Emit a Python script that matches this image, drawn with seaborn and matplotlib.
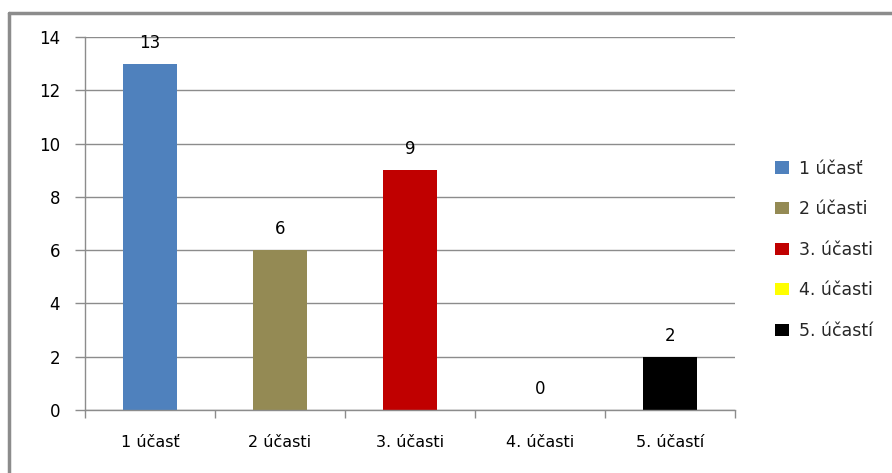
import matplotlib
matplotlib.use("Agg")
import matplotlib.pyplot as plt
from matplotlib.lines import Line2D
from matplotlib.patches import Patch
import seaborn as sns
import pandas as pd

categories = ["1 účasť", "2 účasti", "3. účasti", "4. účasti", "5. účastí"]
legend_labels = ["1 účasť", "2 účasti", "3. účasti", "4. účasti", "5. účastí"]
values = [13, 6, 9, 0, 2]
colors = ["#4F81BD", "#948A54", "#C00000", "#FFFF00", "#000000"]
y_ticks = [0, 2, 4, 6, 8, 10, 12, 14]

sns.set_theme(style="white")
plt.rcParams["font.family"] = ["DejaVu Sans"]

df = pd.DataFrame({"kategoria": categories, "pocet": values})

fig = plt.figure(figsize=(8.92, 4.73), dpi=100)
ax = fig.add_axes([85 / 892, 63 / 473, 650 / 892, 373 / 473])

sns.barplot(data=df, x="kategoria", y="pocet", hue="kategoria",
            palette=colors, width=0.41, legend=False, ax=ax, saturation=1,
            linewidth=0, edgecolor="none")

ax.set_ylim(0, 14)
ax.set_xlim(-0.5, len(categories) - 0.5)
ax.set_yticks(y_ticks)
ax.set_xlabel("")
ax.set_ylabel("")
grid_c = "#8C8C8C"
ax.yaxis.grid(True, color=grid_c, linewidth=1)
ax.set_axisbelow(True)
for s in ["top", "right"]:
    ax.spines[s].set_visible(False)
for s in ["left", "bottom"]:
    ax.spines[s].set_color(grid_c)
    ax.spines[s].set_linewidth(1)

ax.tick_params(axis="y", which="major", length=7, color=grid_c, width=1,
               left=True, labelsize=12, pad=11, labelcolor="#000000")
ax.set_xticks(range(len(categories)))
ax.set_xticklabels(categories)
ax.tick_params(axis="x", which="major", length=0, labelsize=11.5, pad=18,
               labelcolor="#000000")
# category separators below the x axis
ax.set_xticks([i - 0.5 for i in range(len(categories) + 1)], minor=True)
ax.tick_params(axis="x", which="minor", length=6, color=grid_c, width=1,
               bottom=True)

for i, v in enumerate(values):
    ax.annotate(str(v), (i, v), xytext=(0, 8.5), textcoords="offset points",
                ha="center", va="bottom", fontsize=12, color="#000000")

handles = [Patch(facecolor=c, edgecolor="none") for c in colors]
fig.legend(handles, legend_labels, loc="upper left",
           bbox_to_anchor=(759 / 892, 1 - 144 / 473), frameon=False,
           fontsize=12.5, handlelength=0.85, handleheight=0.7,
           labelspacing=1.3, handletextpad=0.55)

# chart frame
frame_c = "#8C8C8C"
fig.add_artist(Line2D([9 / 892, 9 / 892], [0, 1 - 13 / 473],
                      color=frame_c, linewidth=2.5, transform=fig.transFigure))
fig.add_artist(Line2D([9 / 892, 1], [1 - 13 / 473, 1 - 13 / 473],
                      color=frame_c, linewidth=2.5, transform=fig.transFigure))

fig.savefig("out.png", dpi=100, facecolor="white")
